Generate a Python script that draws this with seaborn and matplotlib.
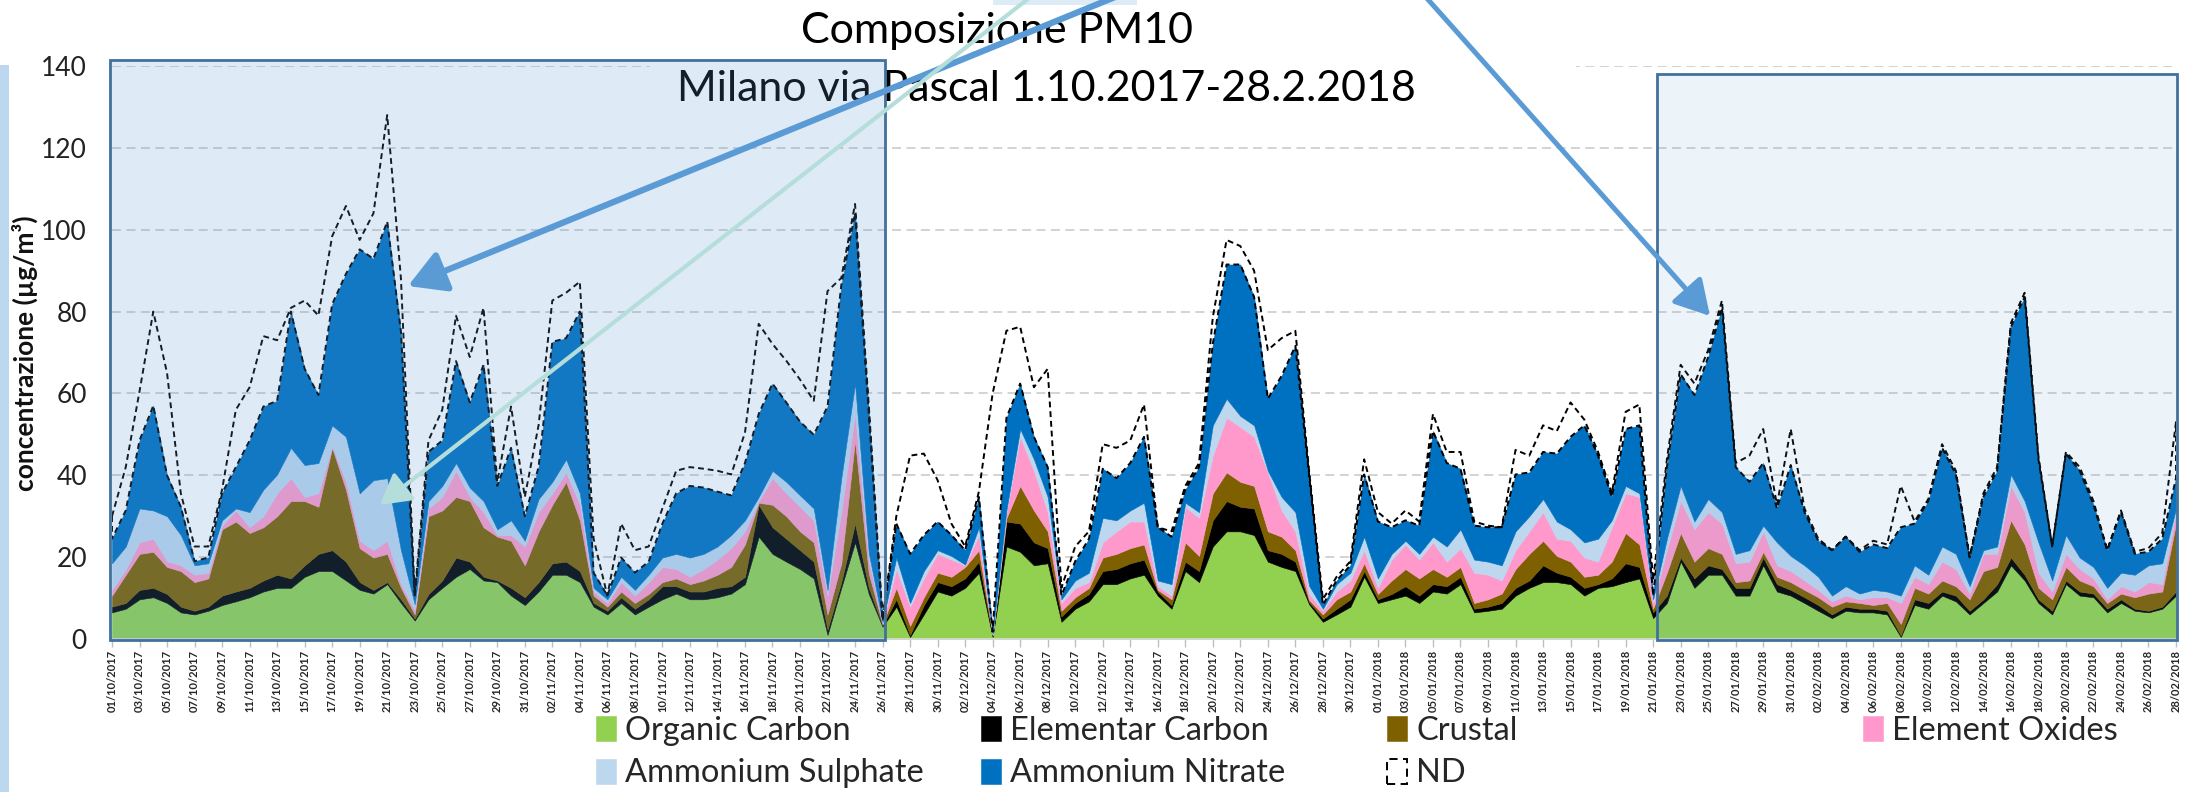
import numpy as np
import pandas as pd
import seaborn as sns
import matplotlib.pyplot as plt
from matplotlib.patches import Rectangle, FancyArrowPatch

W, H = 2197, 792

# one category per day, labels every second day
days = pd.date_range("2017-10-01", "2018-02-28", freq="D")
tick_labels = [d.strftime("%d/%m/%Y") for d in days[::2]]

# upper edge of each stacked band (µg/m3)
oc_top = [6.5, 7.4, 9.7, 10.2, 8.8, 6.5, 6, 6.9, 8.3, 9.2,
          10.2, 11.6, 12.5, 12.5, 15.2, 16.6, 16.6, 14.3, 12, 11.1,
          13.4, 8.8, 4.5, 9.7, 12.5, 15.2, 17.1, 14.3, 13.9, 10.6,
          8.3, 11.6, 15.7, 15.7, 13.9, 7.9, 6, 8.8, 6, 7.9,
          9.7, 11.1, 9.7, 9.7, 10.2, 11.1, 13.4, 25, 20.8, 18.9,
          17.1, 14.8, 1, 12.5, 23.6, 11, 3, 7.9, 0.5, 6,
          11.6, 10.6, 12.5, 16.2, 0.5, 22.6, 21.3, 18, 18.5, 4.2,
          7.4, 9.2, 13.4, 13.4, 14.8, 15.7, 10.6, 7.4, 16.6, 13.9,
          22.6, 26.3, 26.3, 25.4, 18.9, 17.6, 16.6, 8.5, 4.2, 6,
          7.9, 15.2, 8.8, 9.7, 10.6, 8.8, 11.6, 11.1, 13.4, 6.5,
          6.9, 7.4, 10.6, 12.5, 13.9, 13.9, 13.4, 10.6, 12.5, 12.9,
          13.9, 14.8, 5.1, 8.8, 18.9, 12.5, 15.7, 15.7, 10.6, 10.6,
          18, 11.6, 10.6, 8.8, 6.9, 5.1, 6.9, 6.5, 6.5, 6,
          0.5, 8.3, 7.4, 10.6, 9.2, 6, 8.8, 11.6, 18, 14.3,
          8.8, 6, 13.4, 10.6, 10.2, 6.5, 8.8, 6.9, 6.5, 7.4,
          10.6]
ec_top = [7.9, 8.8, 12, 12.5, 11, 7.9, 6.9, 7.9, 10.6, 11.6,
          12.5, 14.3, 15.7, 14.8, 18, 20.8, 21.7, 18.9, 13.9, 12,
          13.9, 9.7, 5, 11, 14.3, 19.9, 18.9, 15.2, 14.3, 12.5,
          10.2, 13.9, 18.5, 18.9, 16.6, 8.8, 6.9, 10.2, 7.4, 9.7,
          12.9, 12.9, 11.6, 11.6, 12.5, 12.9, 15.2, 32.8, 27.3, 24.5,
          21.7, 18.9, 2.3, 13.9, 28.2, 12.5, 3.3, 9.7, 1, 8.3,
          13.9, 12.9, 14.8, 18.9, 0.7, 28.7, 28.2, 23.6, 22.2, 5.5,
          8.8, 11, 16.6, 17.1, 18.5, 19.4, 11.6, 8.3, 18.9, 16.6,
          29, 33.7, 32.3, 31.9, 21.7, 20.8, 18.9, 9, 5, 7.4,
          9.7, 16.6, 9.7, 11, 12.9, 10.6, 13.4, 12.9, 15.2, 7.4,
          7.9, 8.8, 12.5, 14.3, 18, 16.2, 15.2, 12.5, 13.4, 14.8,
          18.5, 17.6, 6.5, 10.6, 19.9, 14.8, 18, 17.1, 12.5, 12.5,
          19.9, 13.4, 12, 10.2, 8.3, 6, 7.9, 7.4, 7.4, 6.9,
          0.9, 9.7, 8.8, 11.6, 10.6, 6.9, 9.7, 13.4, 19.9, 15.7,
          9.7, 6.9, 14.3, 11.6, 11.1, 7.4, 9.7, 7.4, 6.9, 7.9,
          11.6]
crustal_top = [10.6, 15.7, 20.8, 21.3, 17.6, 16.6, 13.9, 14.8, 26.8, 28.7,
               25.9, 27.3, 30, 33.7, 33.7, 32.3, 46.7, 36.5, 22.2, 19.9,
               20.8, 12.5, 6, 30, 31.4, 34.7, 33.7, 27.3, 25, 24,
               18, 26.3, 32.8, 38.4, 29, 10.6, 7.9, 11.6, 8.8, 11,
               13.9, 14.8, 13.4, 14.3, 15.7, 17.6, 23.1, 33.3, 32.8, 30,
               26.3, 23.6, 6, 18.5, 48.5, 16, 3.6, 12.5, 3.2, 10.2,
               16.2, 15.2, 17.6, 21.7, 0.9, 29.5, 37.4, 31.4, 26.3, 6.9,
               10.2, 12.5, 19.9, 20.8, 22.2, 23.1, 12, 9.7, 23.6, 20.3,
               35.6, 40.7, 38.4, 37.4, 26.3, 25, 21.7, 9.5, 6, 9.7,
               11.6, 18.5, 11, 14.3, 17.1, 14.8, 17.1, 15.2, 17.6, 8.8,
               9.7, 11.1, 17.1, 20.8, 24, 20.3, 18.9, 15.2, 15.7, 18.9,
               25.9, 23.1, 7.4, 16.2, 25.9, 18.9, 22.2, 20.8, 13.9, 14.3,
               21.3, 15.2, 13.9, 12, 10.2, 7.9, 9.2, 8.8, 8.3, 8.8,
               3.7, 12.5, 11.1, 14.3, 12.9, 9.7, 16.6, 17.6, 29, 23.1,
               12.5, 9.7, 17.6, 14.3, 12.9, 8.8, 11.1, 10.2, 11.1, 11.6,
               28.2]
oxides_top = [12, 17, 23.6, 24.5, 19, 18, 15.7, 16.2, 27.7, 31.4,
              27.3, 30, 35.6, 39.3, 34.7, 35.6, 47.1, 38.4, 24, 21.7,
              24, 13.4, 7, 31.9, 34.7, 41.1, 34.7, 31, 25.4, 25.4,
              22.6, 31, 35.6, 40.7, 32.8, 11.6, 8.8, 13.9, 10.6, 13.9,
              17.6, 17.1, 15.2, 17.1, 19.4, 22.2, 26.3, 33.7, 39.3, 35.6,
              32.3, 29, 10.6, 31, 55, 19, 3.9, 17.1, 7.9, 14.8,
              20.8, 19.4, 18, 25.4, 1.1, 31, 49.4, 41.1, 31, 8.8,
              12.5, 13.9, 23.6, 26.3, 28.7, 28.7, 12.9, 10.6, 32.3, 29.6,
              44.8, 54.1, 51.8, 49.4, 40.7, 31.4, 26.3, 11, 6.9, 11.6,
              14.3, 21.7, 12.5, 19.4, 23.1, 19.4, 23.6, 18.9, 22.2, 16.2,
              15.7, 14.3, 21.7, 26.3, 31, 24.5, 24, 19.9, 18.9, 27.3,
              35.6, 34.7, 8.8, 21.7, 33.7, 26.8, 31, 28.2, 18.5, 18.9,
              26.3, 18, 16.6, 14.3, 12, 9.2, 10.6, 9.7, 10.2, 10.2,
              8.8, 15.2, 13.4, 18.9, 17.1, 11.1, 20.8, 20.8, 37.4, 31,
              16.2, 11.6, 20.8, 17.1, 14.8, 9.7, 12.9, 11.6, 13.9, 13.4,
              31]
sulphate_top = [18.5, 22.6, 31.9, 31.4, 30, 25.4, 18, 18.5, 29, 31.9,
                31, 36.5, 40.2, 46.7, 42.5, 43, 52.2, 49.4, 35.6, 38.8,
                39.3, 21.7, 8.5, 33.7, 37.4, 43, 37, 33.7, 26.8, 29,
                24, 34.2, 38.4, 43.9, 35.6, 12.5, 9.7, 15.2, 12, 15.7,
                19.9, 20.8, 19.9, 20.8, 22.6, 25.4, 29, 34.7, 41.1, 38.4,
                35.1, 31.9, 12, 39.3, 62.4, 21, 4.2, 19.9, 8.8, 16.6,
                21.7, 20.3, 18.2, 27.3, 1.3, 31.5, 51.3, 43.9, 34.7, 9.7,
                14.3, 16.2, 29.6, 29, 31.4, 33.3, 14.3, 13.4, 33.3, 31,
                52.2, 58.7, 54.5, 52.2, 41.1, 34.7, 31, 13, 7.4, 13.4,
                16.2, 25, 14.8, 20.8, 24, 20.8, 25, 22.6, 26.8, 19.4,
                18.9, 18, 26.3, 30, 34.2, 28.7, 26.8, 23.6, 24.5, 29,
                37.4, 35.6, 9.7, 24.5, 37.4, 28.7, 34.2, 31, 20.8, 21.7,
                27.7, 23.6, 20.3, 18, 15.2, 10.6, 12.9, 11.1, 12, 11.6,
                10.6, 18, 15.7, 22.6, 20.8, 12.9, 21.7, 22.6, 40.2, 33.7,
                23.6, 14.3, 25.4, 19.9, 17.6, 12.5, 16.2, 15.7, 18, 18.5,
                31.9]
nitrate_top = [24.5, 31.4, 48.5, 57, 40, 32.3, 19, 19.9, 35.6, 42,
               48.5, 56.8, 58.2, 80, 66, 59.6, 81.8, 89.2, 95.2, 92.9,
               102, 75, 10, 45.7, 48.5, 67.9, 57.8, 67, 37.4, 46.7,
               30, 42, 72.6, 73.5, 80, 16.2, 10.6, 19.9, 16.2, 18.9,
               28.2, 35.6, 37.4, 37, 36, 35.1, 43, 55, 62.4, 57.8,
               53.1, 49.9, 56.8, 86.4, 104, 55, 4.5, 28.2, 20.8, 25.4,
               28.7, 25.4, 21.7, 34.7, 1.8, 54, 62.4, 49.4, 42, 10.6,
               19, 24.5, 41.6, 39.3, 43, 49.4, 27.3, 25, 36.5, 42,
               72.1, 91.5, 91.5, 83.6, 58.7, 64.3, 71.6, 40, 8.3, 14.3,
               18, 40.2, 28.7, 27.3, 29, 27.7, 50.8, 43, 41.6, 27.7,
               27.3, 27.3, 40.2, 40.7, 45.7, 45.3, 49.4, 52.2, 44.8, 34.7,
               51.3, 52.2, 10.6, 42, 64.7, 59.6, 68.9, 80.9, 42, 38.4,
               43, 31.9, 42.5, 31, 24, 21.7, 25, 21.3, 23.1, 22.2,
               27.3, 28.2, 33.7, 46.7, 40.2, 19.9, 34.7, 41.1, 76.2, 83.6,
               43.9, 22.6, 45.3, 41.1, 32.8, 21.7, 31, 20.8, 21.3, 24.5,
               39.3]
nd_top = [30, 42, 60.5, 80, 65, 35.6, 22.6, 22.6, 36.5, 56,
          61.5, 74, 73, 80.9, 82.7, 79, 98.4, 105.8, 97.5, 104,
          128, 88, 11, 48.5, 56, 79, 68.9, 80.9, 38.4, 56.8,
          34.7, 52.2, 82.7, 84.6, 87.3, 24.5, 10.6, 28.2, 21.7, 22.6,
          31.9, 41.1, 42, 41.6, 41.1, 40.2, 50.4, 77, 72.1, 68,
          63.4, 58.2, 85, 88.2, 106.3, 57, 5, 30, 44.8, 45.3,
          38.8, 28.2, 22.6, 36, 60, 75.3, 76.3, 61.5, 66, 12.5,
          22.6, 26.3, 47.6, 46.7, 48.5, 57.3, 27.3, 26.3, 37.4, 43,
          78.6, 97.5, 96, 90, 70.6, 73.5, 75.3, 41, 9.7, 15.2,
          19, 43.9, 31, 28.2, 31.4, 28.7, 55, 45.7, 45.7, 28.7,
          27.7, 27.3, 46.2, 44.8, 52.2, 50.8, 57.8, 53.6, 45.7, 35.6,
          55.5, 57.3, 14.3, 43.9, 67, 62.4, 70.6, 82.7, 43, 44.8,
          51.3, 32.8, 51.3, 31.9, 24.5, 21.7, 25, 21.7, 24, 23.1,
          37.4, 28.7, 34.2, 47.6, 41.1, 19.9, 35.6, 42, 77.2, 84.6,
          44.8, 22.6, 45.7, 42, 33.7, 21.7, 31.4, 21.3, 22.2, 25.9,
          53]

names = ["Organic Carbon", "Elementar Carbon", "Crustal", "Element Oxides",
         "Ammonium Sulphate", "Ammonium Nitrate"]
colours = ["#92D050", "#000000", "#7F6000", "#FF99CC", "#BDD7EE", "#0070C0"]
tops = [oc_top, ec_top, crustal_top, oxides_top, sulphate_top, nitrate_top]


def fx(px):
    return px / W


def fy(py):
    return 1 - py / H


sns.set_theme(style="white")
plt.rcParams["font.family"] = ["Lato", "DejaVu Sans"]

fig = plt.figure(figsize=(W / 100, H / 100), dpi=100)
ax = fig.add_axes([fx(112), fy(639), (2176 - 112) / W, (639 - 66) / H])

x = np.arange(len(days))
handles = []
lower = np.zeros(len(x))
for name, col, top in zip(names, colours, tops):
    top = np.array(top)
    h = ax.fill_between(x, lower, top, facecolor=col, edgecolor=col, lw=0.4, label=name, zorder=2)
    handles.append(h)
    lower = top
nd = ax.fill_between(x, lower, nd_top, facecolor="none", edgecolor="black", lw=1.4,
                     linestyle=(0, (3, 2)), label="ND", zorder=3)
handles.append(nd)

ax.set_xlim(0, len(x) - 1)
ax.set_ylim(0, 140)
ax.set_yticks(range(0, 141, 20))
ax.set_xticks(x[::2])
ax.set_xticklabels(tick_labels, rotation=90, fontsize=8, fontweight="bold", color="#262626")
ax.tick_params(axis="x", bottom=True, length=6, width=1, color="#BFBFBF", pad=2)
ax.tick_params(axis="y", left=False, length=0, pad=18, labelsize=19, labelcolor="#222222")
ax.grid(axis="y", color="#D0D0D0", linestyle=(0, (5, 3)), lw=1.3)
ax.set_axisbelow(True)
ax.set_facecolor("none")
for s in ["left", "right", "top"]:
    ax.spines[s].set_visible(False)
ax.spines["bottom"].set_color("#D9D9D9")

fig.text(fx(25), fy(353), "concentrazione (µg/m³)", rotation=90, ha="center", va="center",
         fontsize=19, fontweight="bold", color="#111111")

# white title box over the top gridline
fig.add_artist(Rectangle((fx(650), fy(110)), 926 / W, 110 / H, transform=fig.transFigure,
                         facecolor="white", edgecolor="none", zorder=1))
fig.text(fx(997), fy(43), "Composizione PM10", ha="center", va="baseline",
         fontsize=31, color="black", zorder=1.5)
fig.text(fx(1046), fy(101), "Milano via Pascal 1.10.2017-28.2.2018", ha="center", va="baseline",
         fontsize=31, color="black", zorder=1.5)

# highlighted periods (translucent overlays)
fig.add_artist(Rectangle((fx(110), fy(640)), 775 / W, 580 / H, transform=fig.transFigure,
                         facecolor=(0.357, 0.608, 0.835, 0.2), edgecolor="#41719C", lw=2, zorder=2))
fig.add_artist(Rectangle((fx(1657), fy(640)), 520 / W, 566 / H, transform=fig.transFigure,
                         facecolor=(0.357, 0.608, 0.835, 0.11), edgecolor="#41719C", lw=2, zorder=2))

# slide decorations
fig.add_artist(Rectangle((0, 0), 9 / W, (792 - 65) / H, transform=fig.transFigure,
                         facecolor="#BDD7EE", edgecolor="none", zorder=1))
fig.add_artist(Rectangle((fx(993), fy(5)), 144 / W, 5 / H, transform=fig.transFigure,
                         facecolor="#DDEBF7", edgecolor="none", zorder=1))

# arrows
arrows = [((1120, -5), (408, 286), "#5B9BD5", 4.5, 32),
          ((1033, -5), (380, 505), "#B5DEDB", 3.0, 26),
          ((1424, -5), (1710, 316), "#5B9BD5", 3.6, 30)]
for (x0, y0), (x1, y1), col, lw, ms in arrows:
    fig.add_artist(FancyArrowPatch((fx(x0), fy(y0)), (fx(x1), fy(y1)), transform=fig.transFigure,
                                   arrowstyle="-|>,head_length=0.7,head_width=0.4", mutation_scale=ms,
                                   lw=lw, color=col, shrinkA=0, shrinkB=0, zorder=4))

# legend: four columns, two rows
columns = [[0, 4], [1, 5], [2, 6], [3]]
col_x = [596, 981, 1387, 1863]
for cx, idx in zip(col_x, columns):
    fig.legend(handles=[handles[i] for i in idx], loc="upper left",
               bbox_to_anchor=(fx(cx), fy(716)), frameon=False, fontsize=23.5,
               handlelength=0.6, handleheight=0.8, handletextpad=0.3, labelspacing=0.38,
               borderpad=0, borderaxespad=0)

fig.savefig("out.png", dpi=100)
